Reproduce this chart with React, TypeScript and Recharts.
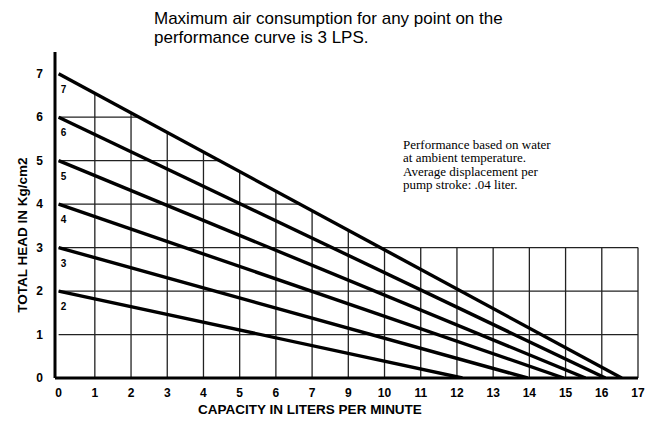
import React from 'react';
import { LineChart, Line, XAxis, YAxis, ReferenceLine } from 'recharts';

// Curves: head at zero flow (Kg/cm2) and flow at zero head (in chart grid units)
const heads = [2, 3, 4, 5, 6, 7];
const zeroHeadFlow = [11.15, 12.95, 13.95, 14.55, 15.1, 15.55];

// X tick labels as printed on the chart (the original skips "8")
const xTickPositions = [0, 1, 2, 3, 4, 5, 6, 7, 8, 9, 10, 11, 12, 13, 14, 15, 16];
const xTickLabels = ['0', '1', '2', '3', '4', '5', '6', '7', '9', '10', '11', '12', '13', '14', '15', '16', '17'];
const yTicks = [0, 1, 2, 3, 4, 5, 6, 7];
const gridFullHeight = 3;
const gridRight = 16;

const series = heads.map((h, i) => ({
  name: String(h),
  data: [
    { x: 0, y: h },
    { x: zeroHeadFlow[i], y: 0 },
  ],
}));

const topHead = heads[heads.length - 1];
const topEnd = zeroHeadFlow[zeroHeadFlow.length - 1];
const topCurveAt = (x: number) => topHead * (1 - x / topEnd);

const verticalGrid = xTickPositions
  .filter((i) => i > 0)
  .map((i) => ({
    x: i,
    top: i === gridRight ? gridFullHeight : Math.max(gridFullHeight, topCurveAt(i)),
  }));
const horizontalGrid = yTicks
  .filter((j) => j > 0 && j < topHead)
  .map((j) => ({
    y: j,
    right: j <= gridFullHeight ? gridRight : topEnd * (1 - j / topHead),
  }));

const tickFont = { fill: '#000', fontSize: 12, fontWeight: 'bold' as const, fontFamily: 'Liberation Sans, Arial, sans-serif' };

const curveLabel = (props: any) => {
  const { x, y, value } = props;
  if (!value || value === 0) return null;
  return (
    <text x={x + 5} y={y + 19} fontSize={10} fontWeight="bold" fontFamily="Liberation Sans, Arial, sans-serif" fill="#000" textAnchor="middle">
      {value}
    </text>
  );
};

export default function App() {
  return (
    <div style={{ position: 'absolute', left: 0, top: 0, width: 654, height: 427, background: '#fff' }}>
      <LineChart width={654} height={427} margin={{ top: 52, right: 16, left: 0, bottom: 0 }}>
        <XAxis
          type="number"
          dataKey="x"
          domain={[-0.1, 16]}
          ticks={xTickPositions}
          tickFormatter={(v: number) => xTickLabels[v] ?? ''}
          allowDataOverflow
          height={49}
          axisLine={{ stroke: '#000', strokeWidth: 3 }}
          tickLine={false}
          tickSize={0}
          tickMargin={10}
          tick={tickFont}
          interval={0}
        />
        <YAxis
          type="number"
          dataKey="y"
          domain={[0, 7.5]}
          ticks={yTicks}
          allowDataOverflow
          width={55}
          axisLine={{ stroke: '#000', strokeWidth: 3 }}
          tickLine={false}
          tickSize={0}
          tickMargin={12}
          tick={tickFont}
          interval={0}
        />
        {verticalGrid.map((g) => (
          <ReferenceLine
            key={'v' + g.x}
            segment={[{ x: g.x, y: 0 }, { x: g.x, y: g.top }]}
            stroke="#222"
            strokeWidth={1.3}
            ifOverflow="visible"
          />
        ))}
        {horizontalGrid.map((g) => (
          <ReferenceLine
            key={'h' + g.y}
            segment={[{ x: 0, y: g.y }, { x: g.right, y: g.y }]}
            stroke="#222"
            strokeWidth={1.3}
            ifOverflow="visible"
          />
        ))}
        {series.map((s) => (
          <Line
            key={s.name}
            data={s.data}
            dataKey="y"
            name={s.name}
            type="linear"
            stroke="#000"
            strokeWidth={3.4}
            dot={false}
            activeDot={false}
            isAnimationActive={false}
            label={curveLabel}
          />
        ))}
      </LineChart>
      <svg width={654} height={427} style={{ position: 'absolute', left: 0, top: 0, pointerEvents: 'none' }}>
        <g fontFamily="Liberation Sans, Arial, sans-serif" fontSize={17} fill="#000">
          <text x={154} y={24}>Maximum air consumption for any point on the</text>
          <text x={154} y={43}>performance curve is 3 LPS.</text>
        </g>
        <g fontFamily="Liberation Serif, Times New Roman, serif" fontSize={13} fill="#000">
          <text x={403} y={149}>Performance based on water</text>
          <text x={403} y={162.4}>at ambient temperature.</text>
          <text x={403} y={175.8}>Average displacement per</text>
          <text x={403} y={189.2}>pump stroke: .04 liter.</text>
        </g>
        <text x={310} y={414} textAnchor="middle" fontFamily="Liberation Sans, Arial, sans-serif" fontWeight="bold" fontSize={13.5} fill="#000">
          CAPACITY IN LITERS PER MINUTE
        </text>
        <text
          x={0}
          y={0}
          transform="translate(27, 235) rotate(-90)"
          textAnchor="middle"
          fontFamily="Liberation Sans, Arial, sans-serif"
          fontWeight="bold"
          fontSize={13.5}
          fill="#000"
        >
          TOTAL HEAD IN Kg/cm2
        </text>
      </svg>
    </div>
  );
}
